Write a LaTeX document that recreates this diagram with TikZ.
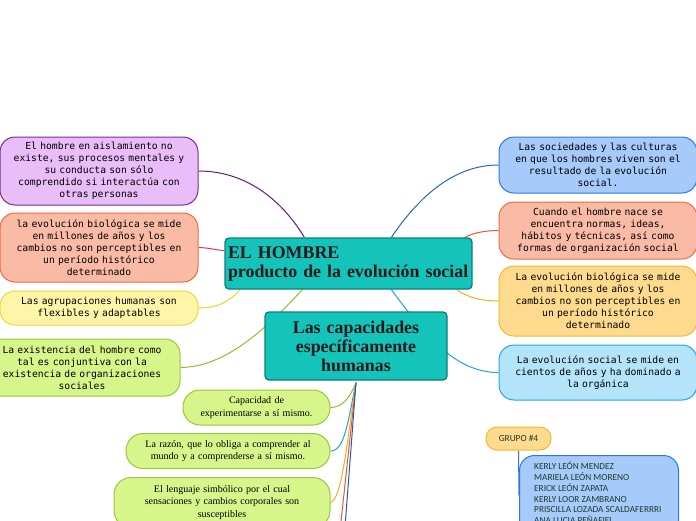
\documentclass[tikz,border=0pt]{standalone}
\usepackage{fontspec}
\newfontfamily\monof{DejaVu Sans Mono}
\newfontfamily\serf{Liberation Serif}
\newfontfamily\calf{Carlito}
\usetikzlibrary{calc}
\pgfdeclarelayer{background}
\pgfsetlayers{background,main}
\definecolor{purF}{HTML}{E9BDF7}\definecolor{purD}{HTML}{7A2E8F}
\definecolor{salF}{HTML}{F9BBA6}\definecolor{salD}{HTML}{F26B45}
\definecolor{yelF}{HTML}{FFF5A8}\definecolor{yelD}{HTML}{EED83A}
\definecolor{grnF}{HTML}{D6F58A}\definecolor{grnD}{HTML}{9CC63C}
\definecolor{bluF}{HTML}{A6CAFA}\definecolor{bluD}{HTML}{2B78E4}
\definecolor{oraF}{HTML}{FDDA8D}\definecolor{oraD}{HTML}{F5B731}
\definecolor{lbF}{HTML}{B3E4FA}\definecolor{lbD}{HTML}{22A6E8}
\definecolor{tealF}{HTML}{14C4BB}\definecolor{tealD}{HTML}{0F7E79}
\definecolor{cPur}{HTML}{6A1B7A}\definecolor{cPink}{HTML}{F0286E}
\definecolor{cYel}{HTML}{F2D21E}\definecolor{cGrn}{HTML}{8DBF2E}
\definecolor{cBlu}{HTML}{2366D1}\definecolor{cRed}{HTML}{F0542A}
\definecolor{cOra}{HTML}{F5B01E}\definecolor{cLb}{HTML}{1EA0E6}
\definecolor{nameC}{HTML}{1F3B2D}
\begin{document}
\begin{tikzpicture}[x=1pt,y=-1pt,
  mbox/.style={draw, line width=1pt, rounded corners=15pt, inner sep=0pt, align=center,
    font=\monof\fontsize{9.7}{12}\selectfont, text=black},
  gbox/.style={draw=grnD, fill=grnF, line width=1pt, rounded corners=17pt, inner sep=0pt, align=center,
    font=\serf\fontsize{10}{12.8}\selectfont, text=black},
  tbox/.style={draw=tealD, fill=tealF, line width=1.3pt, rounded corners=4pt, inner sep=0pt,
    font=\serf\bfseries\fontsize{17.9}{19}\selectfont, text=black!90},
  conn/.style={line width=1pt}]
\useasboundingbox (0,0) rectangle (696,520);
\clip (0,0) rectangle (696,520);

% central nodes
\node[tbox, minimum width=247pt, minimum height=51pt, text width=241pt, align=left] (main) at (348.5,263.5)
  {EL HOMBRE\\producto de la evoluci\'on social};
\node[tbox, minimum width=182pt, minimum height=68pt, text width=178pt, align=center] (cap) at (356,346)
  {Las capacidades\\espec\'ificamente\\humanas};

% left boxes
\node[mbox, fill=purF, draw=purD, minimum width=198pt, minimum height=68pt, text width=192pt] (l1) at (99,171)
  {El hombre en aislamiento no\\existe, sus procesos mentales y\\su conducta son sólo\\comprendido si interactúa con\\otras personas};
\node[mbox, fill=salF, draw=salD, minimum width=198pt, minimum height=69pt, text width=192pt] (l2) at (99,247.5)
  {la evolución biológica se mide\\en millones de años y los\\cambios no son perceptibles en\\un período histórico\\determinado};
\node[mbox, fill=yelF, draw=yelD, minimum width=198pt, minimum height=34pt, text width=192pt] (l3) at (99,308)
  {Las agrupaciones humanas son\\flexibles y adaptables};
\node[mbox, fill=grnF, draw=grnD, minimum width=196pt, minimum height=57pt, text width=190pt] (l4) at (82,367.5)
  {La existencia del hombre como\\tal es conjuntiva con la\\existencia de organizaciones\\sociales};

% right boxes
\node[mbox, fill=bluF, draw=bluD, minimum width=198pt, minimum height=56pt, text width=192pt] (r1) at (598,165)
  {Las sociedades y las culturas\\en que los hombres viven son el\\resultado de la evolución\\social.};
\node[mbox, fill=salF, draw=salD, minimum width=198pt, minimum height=57pt, text width=192pt] (r2) at (598,230.5)
  {Cuando el hombre nace se\\encuentra normas, ideas,\\hábitos y técnicas, así como\\formas de organización social};
\node[mbox, fill=oraF, draw=oraD, minimum width=198pt, minimum height=70pt, text width=192pt] (r3) at (598,301)
  {La evolución biológica se mide\\en millones de años y los\\cambios no son perceptibles en\\un período histórico\\determinado};
\node[mbox, fill=lbF, draw=lbD, minimum width=198pt, minimum height=55pt, text width=192pt] (r4) at (598,372.5)
  {La evolución social se mide en\\cientos de años y ha dominado a\\la orgánica};

% bottom green boxes
\node[gbox, minimum width=147pt, minimum height=35pt, text width=140pt] (g1) at (256.5,407.5)
  {Capacidad de\\experimentarse a sí mismo.};
\node[gbox, minimum width=204pt, minimum height=35pt, text width=198pt] (g2) at (228,451)
  {La razón, que lo obliga a comprender al\\mundo y a comprenderse a sí mismo.};
\node[gbox, minimum width=216pt, minimum height=50pt, text width=210pt, anchor=north] (g3) at (222,477)
  {El lenguaje simbólico por el cual\\sensaciones y cambios corporales son\\susceptibles\\};

% group
\node[draw=oraD, fill=oraF, line width=1pt, rounded corners=11pt, minimum width=65pt, minimum height=23pt,
  inner sep=0pt, font=\calf\fontsize{9.3}{10}\selectfont, text=nameC] (grp) at (518.5,438.5) {GRUPO \#4};
\node[draw=bluD, fill=bluF, line width=1pt, rounded corners=15pt, minimum width=159pt, minimum height=80pt,
  inner sep=0pt, anchor=north west] (names) at (519,455) {};
\node[anchor=north west, inner sep=0pt, align=left, font=\calf\fontsize{9.3}{10.7}\selectfont, text=nameC] (nlist) at (534,462)
  {KERLY LEÓN MENDEZ\\MARIELA LEÓN MORENO\\ERICK LEÓN ZAPATA\\KERLY LOOR ZAMBRANO\\PRISCILLA LOZADA SCALDAFERRRI\\ANA LUCIA PEÑAFIEL};

\begin{pgfonlayer}{background}
\draw[conn, cPur] (l1.east) .. controls (250,171) and (285,205) .. ($(main.north west)+(80,0)$);
\draw[conn, cPink] (l2.east) .. controls (212,248) and (214,250) .. ($(main.west)+(0,-13)$);
\draw[conn, cYel] (l3.east) .. controls (222,308) and (232,298) .. ($(main.south west)+(16,0)$);
\draw[conn, cGrn] (l4.east) .. controls (225,367) and (265,330) .. ($(main.south west)+(78,0)$);
\draw[conn, cBlu] ($(main.north west)+(167,0)$) .. controls (420,195) and (455,165) .. (r1.west);
\draw[conn, cRed] ($(main.north east)+(-8,0)$) .. controls (475,232) and (488,230.5) .. (r2.west);
\draw[conn, cOra] ($(main.south east)+(-16,0)$) .. controls (470,299) and (485,301) .. (r3.west);
\draw[conn, cLb] ($(main.south west)+(167,0)$) .. controls (425,335) and (455,372.5) .. (r4.west);
\coordinate (cb) at ($(cap.south)+(0,2)$);
\draw[conn, cGrn] (cb) .. controls (350,398) and (342,407.5) .. (g1.east);
\draw[conn, cLb] (cb) .. controls (348,420) and (345,451) .. (g2.east);
\draw[conn, cOra] (cb) .. controls (347,440) and (342,500) .. (g3.east);
\coordinate (rd) at (339,540);
\coordinate (bd) at (344,540);
\draw[conn, cRed] (cb) -- (rd);
\draw[conn, cBlu!90!black] (cb) -- (bd);
\draw[conn, bluD] (grp.south) -- (names.west);
\end{pgfonlayer}
\end{tikzpicture}
\end{document}
